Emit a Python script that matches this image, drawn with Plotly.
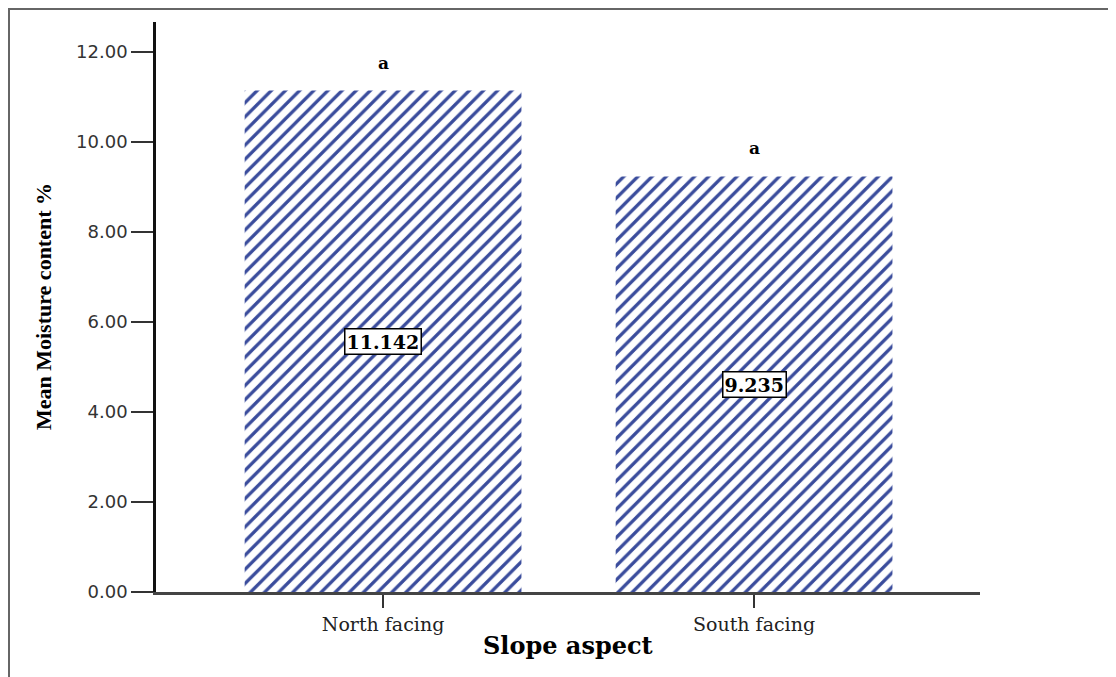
import plotly.graph_objects as go

categories = ["North facing", "South facing"]
means = [11.142, 9.235]
value_labels = ["11.142", "9.235"]
group_letters = ["a", "a"]
y_tick_vals = [0, 2, 4, 6, 8, 10, 12]
y_tick_text = ["0.00", "2.00", "4.00", "6.00", "8.00", "10.00", "12.00"]

x_pos = list(range(len(categories)))

fig = go.Figure()
fig.add_trace(go.Bar(
    x=x_pos, y=means, width=0.746,
    marker=dict(
        color="white",
        line=dict(width=0),
        pattern=dict(shape="/", fgcolor="#3a4c9c", bgcolor="white",
                     fgopacity=1, size=10, solidity=0.33, fillmode="overlay"),
    ),
    showlegend=False, hoverinfo="skip",
))

annotations = []
for xi, v, lab, let in zip(x_pos, means, value_labels, group_letters):
    annotations.append(dict(
        x=xi, y=v / 2, xref="x", yref="y", text=lab, showarrow=False,
        font=dict(family="DejaVu Serif", size=19, color="black", weight="bold"),
        bgcolor="white", bordercolor="black", borderwidth=1.5, borderpad=1,
        xanchor="center", yanchor="middle",
    ))
    annotations.append(dict(
        x=xi, y=v, xref="x", yref="y", text=let, showarrow=False,
        font=dict(family="DejaVu Serif", size=17, color="black", weight="bold"),
        xanchor="center", yanchor="middle", yshift=28,
    ))

# axis titles
annotations.append(dict(
    x=-0.1371, y=0.5, xref="paper", yref="paper", text="Mean Moisture content %",
    textangle=-90, showarrow=False, xanchor="center", yanchor="middle",
    font=dict(family="Liberation Serif", size=22, color="black", weight="bold"),
))
annotations.append(dict(
    x=0.5, y=-0.093, xref="paper", yref="paper", text="Slope aspect",
    showarrow=False, xanchor="center", yanchor="middle",
    font=dict(family="DejaVu Serif", size=24, color="black", weight="bold"),
))

fig.update_layout(
    width=1116, height=677,
    margin=dict(l=148, r=144, t=14, b=93),
    paper_bgcolor="white", plot_bgcolor="white",
    annotations=annotations,
    shapes=[dict(
        type="path", xref="paper", yref="paper",
        path="M -0.1784 -0.2 L -0.1784 1.0228 L 1.2 1.0228",
        line=dict(color="#666666", width=2),
    )],
)

fig.update_xaxes(
    range=[-0.612, 1.609],
    tickvals=x_pos, ticktext=categories,
    showline=True, linecolor="#444444", linewidth=2.5,
    ticks="outside", ticklen=13, tickwidth=2, tickcolor="#333333",
    tickfont=dict(family="DejaVu Serif", size=19, color="#222222"),
    showgrid=False, zeroline=False, layer="below traces",
)
fig.update_yaxes(
    range=[0, 12.667],
    tickvals=y_tick_vals, ticktext=y_tick_text,
    showline=True, linecolor="#111111", linewidth=2.5,
    ticks="outside", ticklen=22, tickwidth=2, tickcolor="#333333",
    tickfont=dict(family="DejaVu Sans", size=18, color="#333333"),
    showgrid=False, zeroline=False, layer="below traces",
)

fig.write_html("out.html", config={"displayModeBar": False})
